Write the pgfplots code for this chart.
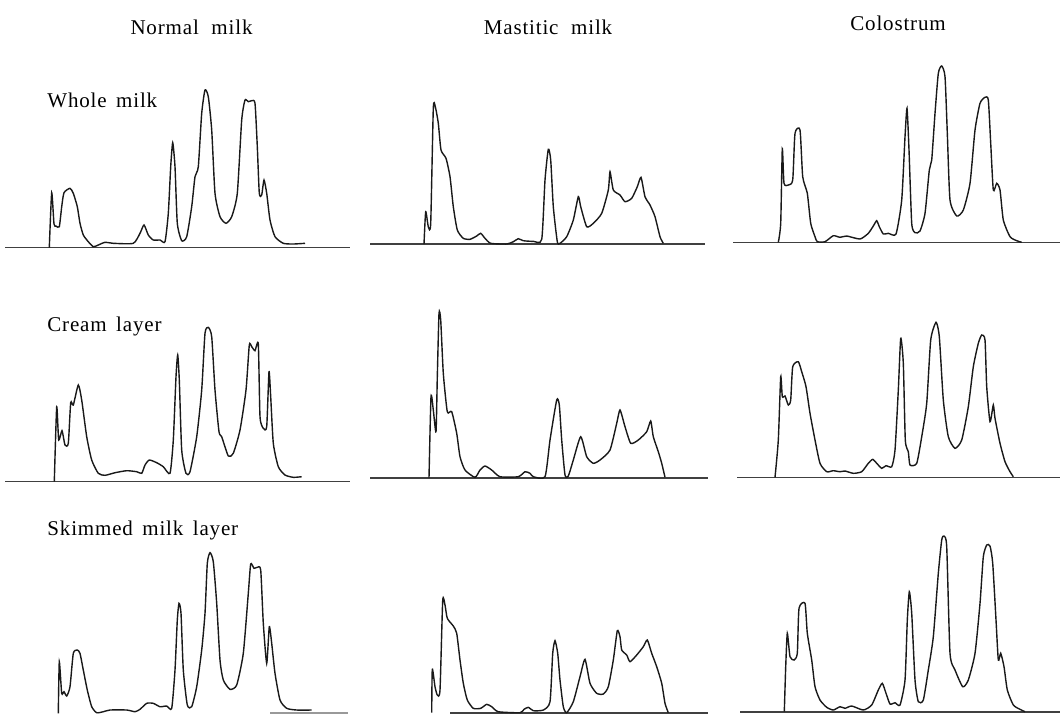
\documentclass[border=0pt]{standalone}
\usepackage{pgfplots}
\pgfplotsset{compat=1.18}
\usepackage{fontspec}
\setmainfont{Liberation Serif}
\newfontfamily\lblfont[LetterSpace=4]{Liberation Serif}
\tikzset{lbl/.style={font=\lblfont\fontsize{10.5}{12}\selectfont, inner sep=0pt}}
\begin{document}
\begin{tikzpicture}
\begin{axis}[width=531.5pt, height=357pt, scale only axis,
  xmin=0, xmax=1063, ymin=0, ymax=714, y dir=reverse,
  hide axis, clip=false,
  trace/.style={black!90, line width=0.7pt, smooth, tension=0.35, mark=none},
  base/.style={black!75, line width=0.6pt, mark=none}]
\addplot[draw=none] coordinates {(0,0)(1063,714)};
% baselines
\addplot[base] coordinates {(5,247.5)(350,247.5)};
\addplot[base] coordinates {(370,244)(705,244)};
\addplot[base] coordinates {(733,242.5)(1060,242.5)};
\addplot[base] coordinates {(5,481.5)(350,481.5)};
\addplot[base] coordinates {(370,478)(708,478)};
\addplot[base] coordinates {(737,477.5)(1060,477.5)};
\addplot[base, black!40] coordinates {(270,713)(348,713)};
\addplot[base] coordinates {(450,713)(708,713)};
\addplot[base] coordinates {(740,712)(1060,712)};
% Normal milk / whole
\addplot[trace] coordinates {(49.3,247.7)(51.7,192.7)(54,224)(56,226)(59.3,226.7)(61.7,206.7)(64,192.7)(70,188.3)(73.3,193.3)(77.3,206.7)(80,223.3)(83.3,235)(88.3,241.7)(93.3,246.7)(98.3,245)(105,242.3)(113.3,243.3)(133.3,243.3)(140,233.3)(144,225)(148.3,235)(153.3,240)(160,240)(165,241.7)(168.3,213.3)(170.7,166.7)(172.7,142.7)(175,166.7)(177.3,223.3)(181.7,240.7)(186.7,236.7)(191.7,206.7)(195,176.7)(198.3,166.7)(201.7,113.3)(205,90)(208.3,96.7)(211.7,130)(215,193.3)(220,216.7)(226,223.3)(231.7,216.7)(237.3,193.3)(241.7,120)(245,100)(248.3,101.7)(251.7,100.7)(255,103.3)(257.3,146.7)(259.3,193.3)(261.7,195)(264,180)(266.7,193.3)(270,220)(275,236.7)(283.3,243.3)(293.3,244)(305,243.3)};
% Mastitic / whole
\addplot[trace] coordinates {(424,244)(425.7,211.7)(428.3,226.7)(430.7,223.3)(433.3,108.3)(435.3,106.7)(438.3,123.3)(441,150)(446,158.3)(450,176.7)(453.3,206.7)(457.3,230)(463.3,238.3)(470,239.3)(476.7,236)(480.7,233.3)(485,238.3)(490.7,243.3)(506.7,244)(513.3,241.7)(518.3,238.7)(523.3,240.7)(533.3,241.3)(541.7,239.3)(545,180)(548.3,149.3)(550.7,160)(553.3,206.7)(557.3,241.7)(560,243.3)(566.7,236.7)(573.3,220)(578.3,196.7)(580.7,206.7)(586.7,226.7)(593.3,223.3)(601.7,213.3)(608.3,190)(610,171.7)(613.3,190)(620,195)(625,201.7)(631.7,198.3)(637.3,186.7)(641,177.3)(645,196.7)(650,205)(655,216.7)(660,236.7)(663.3,243.3)};
% Colostrum / whole
\addplot[trace] coordinates {(778.3,242.3)(780.7,223.3)(782.3,148.7)(784,183.3)(788.3,185)(792.7,180)(795,133.3)(800,130)(802.7,176.7)(807.3,193.3)(810.7,223.3)(815,236.7)(817.3,241.7)(825,241.7)(833.3,235.7)(840,237.3)(846.7,236)(860,239)(868.3,233.3)(873.3,226)(876.7,220.7)(879.3,226.7)(883.3,234)(888.3,233.3)(896,234)(901.7,200)(905,136.7)(907,108.3)(909,150)(911.7,223.3)(915,232.7)(920,231)(925,213.3)(929.3,170)(931.7,160)(935,113.3)(938.3,73.3)(941.7,66)(945,76.7)(947.3,133.3)(950,200)(956.7,216)(963.3,210)(970,183.3)(975,130)(980,103.3)(985,97.3)(988.3,100)(990.7,143.3)(993.3,190)(996.7,183.3)(1000,190)(1003.3,220)(1010,236.7)(1016.7,240.7)(1021.7,242.3)};
% Normal / cream
\addplot[trace] coordinates {(54.3,481.7)(56.7,406.7)(58.7,440)(62,430.7)(65,445)(68.3,443.3)(70.7,402.7)(73.3,405)(78.3,385)(81.7,400)(86.7,436.7)(91.7,460)(98.3,473.3)(105,475.3)(115,472.7)(126.7,470.7)(136.7,471.7)(141.7,473.3)(145,465)(149.3,460)(156.7,462.7)(163.3,466.7)(170,473.3)(173.3,440)(176,376.7)(177.7,355)(179.3,380)(181.7,450)(186,473.3)(190,471.7)(196.7,436.7)(201.7,390)(205,333.3)(208.3,327.3)(211.7,336.7)(215,390)(219,431.7)(221.7,436.7)(228.3,456)(233.3,453.3)(240,430)(246,390)(249.3,345)(251.7,346.7)(255,350.7)(258.3,344)(260,416.7)(263.3,428.3)(266.7,426.7)(269,371.7)(270.7,396.7)(273.3,443.3)(278.3,466.7)(285,475)(293.3,477.3)(301.7,476.7)};
% Mastitic / cream
\addplot[trace] coordinates {(429,477.7)(431,396.7)(433.3,410)(436,431.7)(437.3,376.7)(439,313.3)(440.7,320)(443.3,373.3)(447.3,411.7)(451.7,411.7)(456.7,433.3)(460,456.7)(465,470)(475,477.3)(480,470)(485,466)(491.7,470)(500,476.7)(518.3,476.7)(525,471.7)(530,473.3)(533.3,476.7)(545,476.7)(550,440)(556.7,400)(559.3,405)(561.7,440)(565,475)(568.3,476)(573.3,460)(580.7,436.7)(586.7,456.7)(593.3,463.3)(600,460)(610,450)(616.7,423.3)(620,410)(625,426.7)(630.7,443.3)(638.3,440)(646.7,431.7)(650.7,421)(653.3,436.7)(658.3,451.7)(661.7,463.3)(665,477.3)};
% Colostrum / cream
\addplot[trace] coordinates {(775,477.3)(778.3,440)(780.7,376.7)(782.3,396.7)(785,396)(788.3,405)(790.7,400)(792.7,366.7)(798.3,361.7)(801.7,371.7)(806,386.7)(810,413.3)(815,440)(820,463.3)(826.7,471.7)(833.3,470.7)(840,471.7)(845,471)(853.3,473.3)(861.7,471.7)(868.3,463.3)(872.7,459.3)(876.7,463.3)(881.7,468.3)(886,465.7)(891.7,466.7)(895,450)(898.3,390)(900.7,338.3)(903.3,363.3)(905.3,440)(908.3,451.7)(910,465)(916.7,463.3)(921.7,436.7)(926.7,403.3)(930.7,340)(936,322.3)(939.3,336.7)(943.3,400)(948.3,436.7)(955,448.3)(961.7,440)(968.3,406.7)(973.3,366.7)(978.3,343.3)(981.7,335)(985,340)(986.7,386.7)(990,421.7)(993.3,405)(995,418.3)(1000,443.3)(1005,461.7)(1010,471.7)(1013.3,476.7)};
% Normal / skimmed
\addplot[trace] coordinates {(58.3,713.3)(59.3,661.7)(61.7,693.3)(64,691.7)(66.7,696)(70,686.7)(73.3,653.3)(77.3,650)(80,653.3)(83.3,670)(87.3,690)(91.7,706.7)(96.7,712.7)(103.3,711.7)(110,710)(126.7,710)(135,711.7)(140,709.3)(146.7,703.3)(153.3,703.3)(160,706.7)(166.7,706)(171.7,708.3)(175,670)(177.3,620)(179,603.3)(181,613.3)(183.3,670)(187.3,705)(191.7,706.7)(196.7,686.7)(201.7,650)(205,613.3)(207.3,563.3)(210,552.7)(213.3,561.7)(216.7,603.3)(220,660)(223.3,680)(230,689.3)(236.7,685)(243.3,653.3)(248.3,593.3)(250.7,564)(254,568.3)(257.3,567.3)(260.7,570)(263.3,623.3)(266.7,663.3)(269.3,626.7)(271.7,643.3)(275,673.3)(280,700)(286.7,708.3)(296.7,710)(311.7,710)};
% Mastitic / skimmed
\addplot[trace] coordinates {(431.7,712.7)(432.3,669.3)(435,686.7)(437.3,695)(440,690)(442.7,600.7)(445,605)(447.3,618.3)(453.3,626)(456.7,633.3)(460,660)(463.3,683.3)(467.3,700)(473.3,708.3)(480.7,708.3)(486.7,704.3)(491.7,706.7)(498.3,711.7)(520,712.7)(524,709.3)(528.3,707.3)(533.3,710.7)(543.3,710)(550,701.7)(552.7,653.3)(555,640.7)(557.7,653.3)(560,680)(563.3,706.7)(566.7,712.7)(573.3,701.7)(580,676.7)(585,659.3)(590,683.3)(596.7,693.3)(603.3,694)(608.3,686.7)(613.3,660)(617.3,630.7)(620,636.7)(621.7,650)(626.7,655)(630,661.7)(636.7,655)(643.3,646.7)(647.3,640)(651.7,653.3)(656.7,666.7)(661.7,683.3)(665,703.3)(668.3,712.7)};
% Colostrum / skimmed
\addplot[trace] coordinates {(784.3,711.7)(785.7,666.7)(787.3,633.3)(790,656.7)(794,660)(797.3,653.3)(799,608.3)(805,603.3)(807.3,633.3)(811.7,660)(815,686.7)(820,700)(826.7,707.3)(833.3,710)(840,706.7)(845,708.3)(851.7,706)(863.3,710)(871.7,705)(878.3,690)(882.3,683.3)(886,693.3)(890,704)(895,702.7)(900,705)(905,680)(907.3,620)(909.3,591.7)(911.7,613.3)(915,680)(918.3,701.7)(923.3,700)(928.3,670)(933.3,636.7)(938.3,573.3)(941.7,540)(944,536)(946.7,546.7)(950,653.3)(955,670)(962.7,686.7)(968.3,680)(975,653.3)(980,603.3)(983.3,556.7)(986.7,545)(990,546)(992.7,563.3)(996,620)(998.3,660)(1000.7,653.3)(1004,666.7)(1007.3,690)(1013.3,705)(1020,709.3)(1025,711.7)};
% labels
\node[lbl] at (axis cs:191.5,27) {Normal\hspace{0.6em}milk};
\node[lbl] at (axis cs:548,27) {Mastitic\hspace{0.6em}milk};
\node[lbl] at (axis cs:898,23) {Colostrum};
\node[lbl, anchor=west] at (axis cs:47,100) {Whole\hspace{0.45em}milk};
\node[lbl, anchor=west] at (axis cs:47,326) {Cream\hspace{0.45em}layer};
\node[lbl, anchor=west] at (axis cs:47,530) {Skimmed\hspace{0.45em}milk\hspace{0.45em}layer};
\end{axis}
\end{tikzpicture}
\end{document}
